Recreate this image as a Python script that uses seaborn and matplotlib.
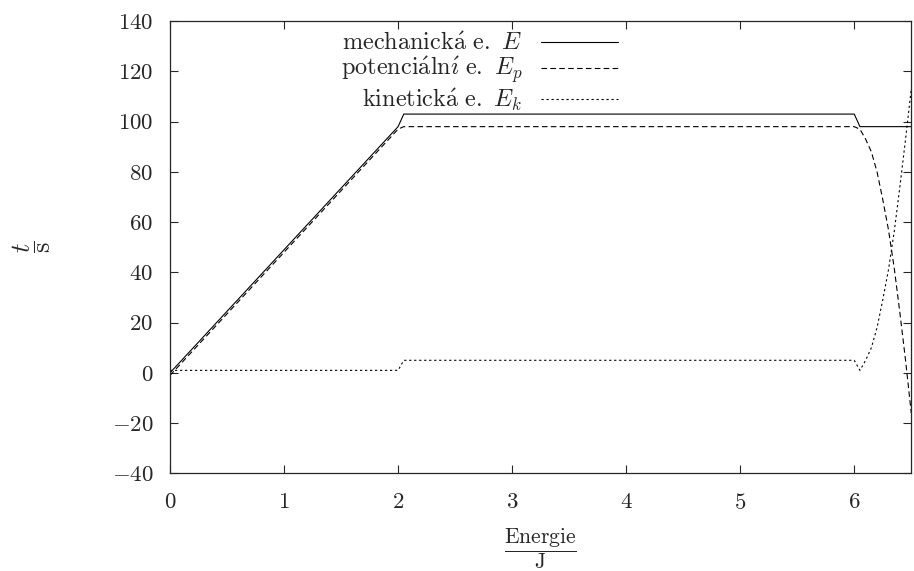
import pandas as pd
import numpy as np
import matplotlib
matplotlib.use("Agg")
import matplotlib.pyplot as plt
import seaborn as sns

# energy values
x_mech = [0.0, 2.0, 2.05, 6.0, 6.05, 6.5]
y_mech = [0.0, 98.0, 103.0, 103.0, 98.0, 98.0]

x_pot = [0.0, 2.0, 2.05, 6.0, 6.05, 6.1, 6.15, 6.2, 6.25, 6.3, 6.35, 6.4, 6.45, 6.5]
y_pot = [-1.0, 97.0, 98.0, 98.0, 97.0, 93.0, 88.0, 80.0, 69.0, 57.0, 42.0, 24.0, 5.0, -16.0]

x_kin = [0.0, 2.0, 2.05, 6.0, 6.05, 6.1, 6.15, 6.2, 6.25, 6.3, 6.35, 6.4, 6.45, 6.5]
y_kin = [1.0, 1.0, 5.0, 5.0, 1.0, 5.0, 10.0, 18.0, 29.0, 41.0, 56.0, 74.0, 93.0, 113.0]

labels = [r"$\mathrm{mechanick\acute{a}\ e.}\ E$",
          r"$\mathrm{potenci\acute{a}ln\acute{\imath}\ e.}\ E_p$",
          r"$\mathrm{kinetick\acute{a}\ e.}\ E_k$"]
x_ticks = [0, 1, 2, 3, 4, 5, 6]
y_ticks = [-40, -20, 0, 20, 40, 60, 80, 100, 120, 140]

sns.set_style("ticks")
plt.rcParams['font.family'] = ['cmr10', 'DejaVu Serif']
plt.rcParams['mathtext.fontset'] = 'cm'
plt.rcParams['axes.formatter.use_mathtext'] = True
plt.rcParams['axes.unicode_minus'] = True

fig = plt.figure(figsize=(9.14, 5.71), dpi=100)
ax = fig.add_axes([0.186, 0.171, 0.811, 0.792])

sns.lineplot(x=x_mech, y=y_mech, ax=ax, color='black', linewidth=0.8, label=labels[0])
sns.lineplot(x=x_pot, y=y_pot, ax=ax, color='black', linewidth=0.8, label=labels[1],
             dashes=False, linestyle=(0, (5, 3)))
sns.lineplot(x=x_kin, y=y_kin, ax=ax, color='black', linewidth=0.8, label=labels[2],
             dashes=False, linestyle=(0, (2, 2.5)))

ax.set_xlim(0, 6.5)
ax.set_ylim(-40, 140)
ax.set_xticks(x_ticks)
ax.set_yticks(y_ticks)
ax.tick_params(direction='in', top=True, right=True, length=6, width=0.8, labelsize=16.5)
ax.tick_params(axis='x', pad=14)
ax.tick_params(axis='y', pad=12)
for s in ax.spines.values():
    s.set_linewidth(0.9)

ax.set_xlabel(r"$\dfrac{\mathrm{Energie}}{\mathrm{J}}$", fontsize=15.5, labelpad=10)
ax.set_ylabel(r"$\dfrac{t}{\mathrm{s}}$", fontsize=19)
ax.yaxis.set_label_coords(-0.158, 0.5)

ax.legend(loc='upper right', bbox_to_anchor=(0.605, 0.975), frameon=False, markerfirst=False,
          fontsize=17.5, handlelength=3.2, handletextpad=0.75, labelspacing=0.0,
          borderpad=0, borderaxespad=0)

fig.savefig("out.png", dpi=100)
